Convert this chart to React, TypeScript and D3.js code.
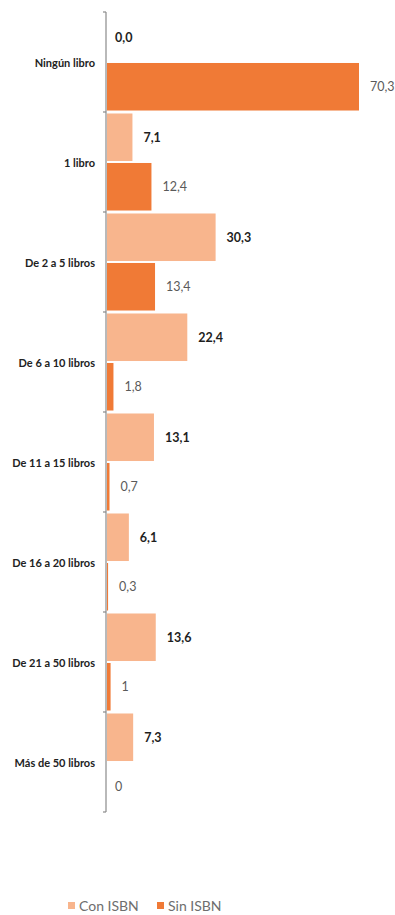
import React from "react";
import * as d3 from "d3";

const categories = [
  "Ningún libro",
  "1 libro",
  "De 2 a 5 libros",
  "De 6 a 10 libros",
  "De 11 a 15 libros",
  "De 16 a 20 libros",
  "De 21 a 50 libros",
  "Más de 50 libros",
];
const conISBN = [0.0, 7.1, 30.3, 22.4, 13.1, 6.1, 13.6, 7.3];
const sinISBN = [70.3, 12.4, 13.4, 1.8, 0.7, 0.3, 1, 0];
const conLabels = ["0,0", "7,1", "30,3", "22,4", "13,1", "6,1", "13,6", "7,3"];
const sinLabels = ["70,3", "12,4", "13,4", "1,8", "0,7", "0,3", "1", "0"];
const seriesNames = ["Con ISBN", "Sin ISBN"];
const colors = ["#F8B58D", "#F07A36"];

export default function App() {
  const W = 395;
  const H = 915;
  const axisX = 106;
  const y = d3.scaleBand<string>().domain(categories).range([12, 812]).paddingInner(0).paddingOuter(0);
  const x = d3.scaleLinear().domain([0, 70.3]).range([axisX + 1, 359]);
  const inner = d3.scaleBand<number>().domain([0, 1]).range([0, y.bandwidth()]).paddingInner(0.04).paddingOuter(0.03);
  const font = "Lato, 'Open Sans', sans-serif";
  const series = [conISBN, sinISBN];
  const labels = [conLabels, sinLabels];

  return (
    <svg width={W} height={H} style={{ position: "absolute", left: 0, top: 0, background: "#fff" }} fontFamily={font}>
      {categories.map((c, i) => (
        <g key={c}>
          {series.map((s, k) => {
            const by = (y(c) as number) + (inner(k) as number);
            const bh = inner.bandwidth();
            return (
              <g key={k}>
                <rect x={x(0)} y={by} width={Math.max(0, x(s[i]) - x(0))} height={bh} fill={colors[k]} />
                <text
                  x={x(s[i]) + (s[i] === 0 ? 8 : 11)}
                  y={by + bh / 2}
                  dy="0.35em"
                  fontSize={12.5}
                  fontWeight={k === 0 ? 700 : 400}
                  fill={k === 0 ? "#1e1e1e" : "#5a5a5a"}
                >
                  {labels[k][i]}
                </text>
              </g>
            );
          })}
          <text
            x={95}
            y={(y(c) as number) + y.bandwidth() / 2 + 1}
            dy="0.35em"
            textAnchor="end"
            fontSize={11}
            fontWeight={700}
            fill="#222"
          >
            {c}
          </text>
        </g>
      ))}
      <line x1={axisX} x2={axisX} y1={12} y2={812} stroke="#8a8a8a" strokeWidth={1.2} />
      {d3.range(categories.length + 1).map((i) => {
        const ty = 12 + i * y.step();
        return <line key={i} x1={axisX - 3} x2={axisX} y1={ty} y2={ty} stroke="#8a8a8a" strokeWidth={1.2} />;
      })}
      {seriesNames.map((n, k) => {
        const lx = [68, 157][k];
        return (
          <g key={n}>
            <rect x={lx} y={902} width={7} height={7} fill={colors[k]} />
            <text x={lx + 11} y={906} dy="0.35em" fontSize={14} fill="#6e6e6e">
              {n}
            </text>
          </g>
        );
      })}
    </svg>
  );
}
